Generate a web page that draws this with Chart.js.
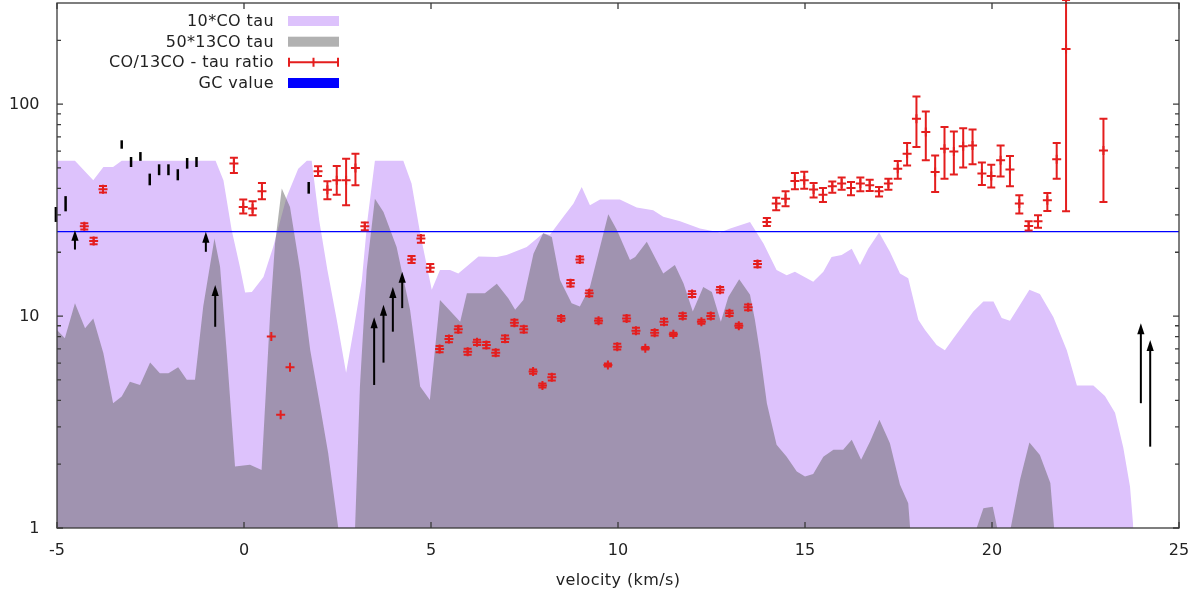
<!DOCTYPE html>
<html><head><meta charset="utf-8">
<script src="https://cdn.jsdelivr.net/npm/chart.js@4/dist/chart.umd.min.js"></script>
<style>html,body{margin:0;padding:0;background:#fff}#wrap{width:1197px;height:596px}</style>
</head><body><div id="wrap"><canvas id="c" width="1197" height="596"></canvas></div>
<script>
// ---- data ----
const coVel = [-5.00,-4.52,-4.03,-3.76,-3.50,-3.27,-0.76,-0.55,-0.33,-0.11,0.03,0.21,0.52,0.78,1.14,1.45,1.68,1.81,2.01,2.23,2.48,2.73,2.93,3.15,3.30,3.50,4.26,4.48,4.71,5.02,5.24,5.51,5.73,6.27,6.76,7.02,7.56,8.00,8.18,8.54,8.81,9.03,9.25,9.52,10.05,10.50,10.94,11.21,11.66,12.19,12.73,13.00,13.53,13.89,14.24,14.51,14.73,15.22,15.49,15.71,15.98,16.25,16.47,16.69,16.98,17.27,17.54,17.76,18.03,18.21,18.52,18.74,18.97,19.50,19.77,20.04,20.26,20.48,20.75,21.00,21.28,21.64,22.00,22.27,22.71,23.02,23.29,23.51,23.69,23.78];
const coTau10 = [54,54,43.7,50.5,50.5,54,54,43.7,25.5,17.1,12.9,13.0,15.3,21.2,36.5,49.6,54,54,28.3,16.5,9.6,5.4,8.6,14.7,28.3,54,54,42.2,24.6,13.3,16.5,16.5,15.9,19.1,19.0,19.4,21.2,24.6,24.2,29.4,34,40.6,33.3,35.5,35.5,32.5,31.6,29.4,28.0,25.9,24.8,25.9,27.8,22,16.5,15.6,16.2,14.5,16.2,19.0,19.4,20.8,17.4,20.8,24.8,20.1,15.9,15.1,9.6,8.6,7.3,6.9,7.85,10.5,11.7,11.7,9.8,9.5,11.3,13.3,12.7,9.9,6.9,4.7,4.7,4.2,3.5,2.4,1.57,1];

const c13Vel = [-5.00,-4.79,-4.52,-4.25,-4.03,-3.76,-3.50,-3.27,-3.05,-2.78,-2.51,-2.25,-2.02,-1.76,-1.53,-1.31,-1.09,-0.79,-0.64,-0.46,-0.24,0.16,0.47,0.70,0.83,1.01,1.23,1.50,1.77,1.99,2.25,2.52,2.97,3.10,3.28,3.50,3.73,4.08,4.44,4.71,4.97,5.24,5.78,5.96,6.44,6.76,7.07,7.25,7.47,7.74,8.00,8.23,8.45,8.76,8.98,9.25,9.74,9.97,10.32,10.46,10.77,11.21,11.52,11.75,12.00,12.28,12.51,12.75,12.95,13.24,13.53,13.66,13.80,13.98,14.24,14.51,14.78,15.00,15.22,15.49,15.76,16.02,16.25,16.50,16.74,16.99,17.27,17.54,17.76,17.81,19.59,19.77,20.02,20.14,20.50,20.75,21.00,21.28,21.56,21.66];
const c13Tau50 = [8.6,7.85,11.5,8.75,9.75,6.67,3.88,4.17,4.9,4.73,6.03,5.37,5.37,5.73,5.0,5.0,11.1,23.2,17.1,6.67,1.95,1.99,1.88,10.3,22,40,32.7,16.5,6.92,4.17,2.26,1,1,4.65,16.5,35.8,31,21.2,10.7,4.65,4.02,11.9,9.4,12.8,12.8,14.2,12.1,10.7,11.9,19.7,24.6,23.6,14.8,11.5,11.1,13.7,30.2,25.5,18.4,19.0,22.4,15.9,17.4,14.3,10.5,13.7,13.0,9.4,12.3,14.9,12.6,9.6,6.67,3.88,2.47,2.17,1.85,1.75,1.8,2.17,2.34,2.34,2.61,2.1,2.56,3.24,2.51,1.6,1.31,1,1,1.24,1.26,1,1,1.69,2.53,2.21,1.63,1];

const ratioVel = [-4.27,-4.02,-3.77,-0.27,-0.02,0.23,0.48,0.73,0.98,1.23,1.98,2.23,2.48,2.73,2.98,3.23,4.48,4.73,4.98,5.23,5.48,5.73,5.98,6.23,6.48,6.73,6.98,7.23,7.48,7.73,7.98,8.23,8.48,8.73,8.98,9.23,9.48,9.73,9.98,10.23,10.48,10.73,10.98,11.23,11.48,11.73,11.98,12.23,12.48,12.73,12.98,13.23,13.48,13.73,13.98,14.23,14.48,14.73,14.98,15.23,15.48,15.73,15.98,16.23,16.48,16.73,16.98,17.23,17.48,17.73,17.98,18.23,18.48,18.73,18.98,19.23,19.48,19.73,19.98,20.23,20.48,20.73,20.98,21.23,21.48,21.73,21.98,22.98];
const ratioVal = [26.5,22.6,39.7,52.4,32.7,32.2,38.8,8.0,3.42,5.73,48.2,39.4,43.7,43.7,50,26.5,18.5,23.2,16.9,6.99,7.79,8.66,6.79,7.52,7.3,6.72,7.82,9.3,8.66,5.47,4.7,5.14,9.75,14.3,18.5,12.8,9.5,5.88,7.17,9.75,8.53,7.05,8.34,9.4,8.2,10.0,12.7,9.4,10.0,13.3,10.3,9.0,11.0,17.6,27.8,34,35.8,43.4,43.7,39.5,37.4,41,42.2,40.2,42.2,41.4,38.8,42.2,49.6,58.4,85.3,73.8,47.8,61.6,59.8,63.2,63.8,47,45.8,54.3,49.1,34,26.6,28,35.2,54.9,182,60.5];
const ratioLo = [25.6,21.8,38.3,47.3,30.5,29.9,35.6,8.0,3.42,5.73,45.8,35.6,37.4,33.3,41.4,25.4,17.8,22.2,16.2,6.75,7.52,8.36,6.56,7.3,7.05,6.5,7.55,9.0,8.36,5.35,4.6,4.97,9.5,13.8,17.9,12.4,9.25,5.78,6.95,9.45,8.27,6.95,8.1,9.1,8.05,9.7,12.3,9.2,9.7,12.9,10.0,8.8,10.65,17.0,26.6,31.6,33,39.7,39.9,36.3,34.5,38.2,39.4,37.2,38.8,38.9,36.7,39.4,44.5,51.4,62.7,54.3,38.5,44.5,46.5,50.2,52,41.5,40.4,45.6,41,30.5,25.3,26.1,31.3,44.5,31.2,34.5];
const ratioHi = [27.4,23.4,41.1,55.9,35.5,34.8,42.4,8.0,3.42,5.73,50.9,43.3,51,55.3,58.4,27.6,19.2,24.0,17.6,7.23,8.06,8.96,7.02,7.74,7.55,6.94,8.09,9.6,8.96,5.59,4.8,5.31,10.0,14.8,19.1,13.2,9.75,5.98,7.4,10.05,8.8,7.15,8.6,9.7,8.35,10.3,13.1,9.6,10.3,13.7,10.6,9.2,11.35,18.2,29.0,36.2,38.8,47.3,48,42.5,40.2,43.2,45,42.9,45,44,40.6,44.5,53.9,65.5,108.7,92.4,57.3,77.9,74.3,77,76,53,51.8,63.8,56.9,37.2,28,29.9,38.1,65.5,310,85.3];

const limitVel = [-5.03,-4.77,-3.27,-3.02,-2.77,-2.52,-2.27,-2.02,-1.77,-1.52,-1.27,1.73];
const limitLo = [27.8,31.2,61.6,50.5,54,41.4,46.2,46.2,43.7,49.6,50.5,37.8];
const limitHi = [32.7,36.8,67.5,56.3,59.4,47,52,52,49.3,55.7,56.3,42.9];

const arrowVel = [-4.52,-1.02,-0.77,3.48,3.73,3.98,4.23,23.98,24.23];
const arrowFrom = [20.6,20.1,8.9,4.73,6.03,8.44,10.9,3.88,2.42];
const arrowTo = [25.4,25.0,14.0,9.86,11.3,13.7,16.2,9.24,7.71];

const gcVel = [-5, 25];
const gcValue = [25, 25];

const xTickVals = [-5, 0, 5, 10, 15, 20, 25];
const yTickVals = [1, 10, 100];
const yMinorVals = [2,3,4,5,6,7,8,9,20,30,40,50,60,70,80,90,200];
const seriesLabels = ['10*CO tau', '50*13CO tau', 'CO/13CO - tau ratio', 'GC value'];
const xTitle = 'velocity (km/s)';

// ---- styles ----
const LAV = 'rgb(221,194,252)';
const GRAY = 'rgba(100,100,100,0.5)';
const RED = 'rgb(228,30,30)';
const BLUE = 'rgb(0,0,255)';
const TXT = '#222';
const FONT = '"DejaVu Sans", Verdana, sans-serif';

const pts = (xs, ys) => xs.map((v, i) => ({x: v, y: ys[i]}));

const deco = {
  id: 'deco',
  beforeDraw(chart) { chart.ctx.letterSpacing = '0.4px'; },
  afterDatasetsDraw(chart) {
    const {ctx, scales: {x, y}} = chart;
    ctx.save();
    ctx.letterSpacing = '0px';
    // black vertical bars
    ctx.strokeStyle = '#000'; ctx.lineWidth = 2.5; ctx.lineCap = 'butt';
    limitVel.forEach((v, i) => {
      const px = x.getPixelForValue(v);
      ctx.beginPath();
      ctx.moveTo(px, y.getPixelForValue(limitLo[i]));
      ctx.lineTo(px, y.getPixelForValue(limitHi[i]));
      ctx.stroke();
    });
    // black arrows (lower limits)
    ctx.lineWidth = 2; ctx.fillStyle = '#000';
    arrowVel.forEach((v, i) => {
      const px = x.getPixelForValue(v);
      const y0 = y.getPixelForValue(arrowFrom[i]);
      const y1 = y.getPixelForValue(arrowTo[i]);
      const hl = Math.min(11, (y0 - y1) * 0.55);
      ctx.beginPath(); ctx.moveTo(px, y0); ctx.lineTo(px, y1 + hl * 0.5); ctx.stroke();
      ctx.beginPath(); ctx.moveTo(px, y1); ctx.lineTo(px - 3.6, y1 + hl); ctx.lineTo(px + 3.6, y1 + hl); ctx.closePath(); ctx.fill();
    });
    // red error bars
    ctx.strokeStyle = RED; ctx.lineWidth = 2;
    ratioVel.forEach((v, i) => {
      if (ratioLo[i] === ratioHi[i]) return;
      const px = x.getPixelForValue(v);
      const yl = y.getPixelForValue(ratioLo[i]);
      const yh = y.getPixelForValue(ratioHi[i]);
      ctx.beginPath();
      ctx.moveTo(px, yl); ctx.lineTo(px, yh);
      ctx.moveTo(px - 4, yl); ctx.lineTo(px + 4, yl);
      ctx.moveTo(px - 4, yh); ctx.lineTo(px + 4, yh);
      ctx.stroke();
    });
    ctx.restore();
  },
  afterDraw(chart) {
    const {ctx, chartArea: a, scales: {x, y}} = chart;
    ctx.save();
    ctx.letterSpacing = '0px';
    // frame
    ctx.strokeStyle = '#3a3a3a'; ctx.lineWidth = 1.3;
    ctx.strokeRect(a.left, a.top, a.right - a.left, a.bottom - a.top);
    // inward ticks
    ctx.beginPath();
    xTickVals.forEach(v => {
      const px = x.getPixelForValue(v);
      ctx.moveTo(px, a.bottom); ctx.lineTo(px, a.bottom - 6);
      ctx.moveTo(px, a.top); ctx.lineTo(px, a.top + 6);
    });
    yTickVals.forEach(v => {
      const py = y.getPixelForValue(v);
      ctx.moveTo(a.left, py); ctx.lineTo(a.left + 6, py);
      ctx.moveTo(a.right, py); ctx.lineTo(a.right - 6, py);
    });
    yMinorVals.forEach(v => {
      const py = y.getPixelForValue(v);
      ctx.moveTo(a.left, py); ctx.lineTo(a.left + 4, py);
      ctx.moveTo(a.right, py); ctx.lineTo(a.right - 4, py);
    });
    ctx.stroke();
    // tick labels
    ctx.font = '16px ' + FONT; ctx.fillStyle = TXT; ctx.textBaseline = 'middle';
    ctx.textAlign = 'center';
    xTickVals.forEach(v => ctx.fillText(String(v), x.getPixelForValue(v), a.bottom + 23));
    ctx.textAlign = 'right';
    yTickVals.forEach(v => ctx.fillText(String(v), a.left - 17.5, y.getPixelForValue(v) + 1));
    // legend
    const rows = [21, 41.7, 62.3, 83];
    const tx = 274, s0 = 288, s1 = 339;
    ctx.letterSpacing = '0.4px';
    ctx.font = '16px ' + FONT; ctx.fillStyle = TXT;
    ctx.textAlign = 'right'; ctx.textBaseline = 'middle';
    chart.data.datasets.forEach((ds, i) => ctx.fillText(ds.label, tx, rows[i] + 1));
    ctx.fillStyle = LAV; ctx.fillRect(s0, rows[0] - 5, s1 - s0, 10);
    ctx.fillStyle = GRAY; ctx.fillRect(s0, rows[1] - 5, s1 - s0, 10);
    ctx.strokeStyle = RED; ctx.lineWidth = 2;
    ctx.beginPath();
    ctx.moveTo(s0, rows[2]); ctx.lineTo(s1, rows[2]);
    [s0 + 1, (s0 + s1) / 2, s1 - 1].forEach(px => { ctx.moveTo(px, rows[2] - 4.5); ctx.lineTo(px, rows[2] + 4.5); });
    ctx.stroke();
    ctx.fillStyle = BLUE; ctx.fillRect(s0, rows[3] - 5, s1 - s0, 10);
    ctx.restore();
  }
};

new Chart(document.getElementById('c'), {
  type: 'line',
  data: {
    datasets: [
      { label: seriesLabels[0], data: pts(coVel, coTau10), fill: 'start', backgroundColor: LAV,
        borderColor: 'rgba(0,0,0,0)', borderWidth: 0, pointRadius: 0, tension: 0, order: 4 },
      { label: seriesLabels[1], data: pts(c13Vel, c13Tau50), fill: 'start', backgroundColor: GRAY,
        borderColor: 'rgba(0,0,0,0)', borderWidth: 0, pointRadius: 0, tension: 0, order: 3 },
      { label: seriesLabels[2], data: pts(ratioVel, ratioVal), showLine: false, fill: false,
        pointStyle: 'cross', pointRadius: 4.5, pointBorderWidth: 2, borderColor: RED, backgroundColor: RED,
        order: 1, clip: false },
      { label: seriesLabels[3], data: pts(gcVel, gcValue), fill: false, borderColor: BLUE, borderWidth: 1.2,
        pointRadius: 0, tension: 0, order: 2 }
    ]
  },
  options: {
    responsive: false,
    animation: false,
    events: [],
    layout: { autoPadding: false, padding: { top: 3, right: 18, left: 0, bottom: 0 } },
    plugins: { legend: { display: false }, tooltip: { enabled: false } },
    scales: {
      x: {
        type: 'linear', min: -5, max: 25,
        afterBuildTicks: s => { s.ticks = xTickVals.map(v => ({value: v})); },
        afterFit: s => { s.height = 68; },
        grid: { display: false, drawTicks: false },
        border: { display: false },
        ticks: { display: false },
        title: { display: true, text: xTitle, color: TXT, font: { family: FONT, size: 16 },
                 padding: { top: 0, bottom: 6 } }
      },
      y: {
        type: 'logarithmic', min: 1, max: 300,
        afterBuildTicks: s => { s.ticks = yTickVals.map(v => ({value: v})); },
        afterFit: s => { s.width = 57; },
        grid: { display: false, drawTicks: false },
        border: { display: false },
        ticks: { display: false }
      }
    }
  },
  plugins: [deco]
});
</script>
</body></html>
